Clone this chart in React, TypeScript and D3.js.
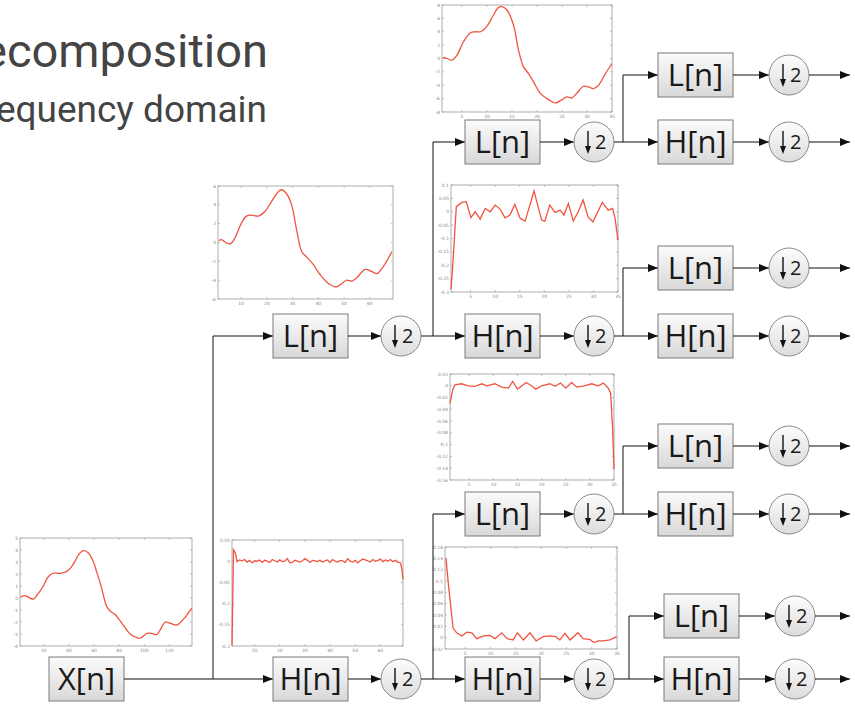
import React from 'react';
import * as d3 from 'd3';

type Pt = [number, number];

// input signal x[n] (plot left of X[n])
const signalX: Pt[] = [
  [1.5, 0.1], [5, 0.2], [8, 0.05], [11.6, -0.1], [15, 0.3], [19.6, 1.0], [23, 1.7], [26, 2.0],
  [29, 2.1], [31.6, 2.05], [35, 2.1], [38, 2.2], [42, 2.6], [45, 3.1], [47.6, 3.6], [51.5, 3.95],
  [55.5, 3.75], [59.5, 3.0], [62, 2.2], [65, 1.2], [67.5, 0.2], [70, -0.7], [73, -1.1], [77, -1.4],
  [80, -1.8], [83.5, -2.3], [87, -2.8], [90, -3.1], [93, -3.25], [96.7, -3.35], [99, -3.2], [102, -2.95],
  [106, -2.95], [110, -3.05], [113, -2.6], [116.7, -2.0], [119, -2.05], [122, -2.15], [125, -2.25],
  [127, -2.2], [130, -1.9], [132.7, -1.6], [135, -1.25], [138, -0.85],
];

// level 1 low-pass output
const level1Low: Pt[] = [
  [1.4, 0.2], [2.3, 0.3], [4.25, -0.05], [5.8, -0.15], [7.5, 0.45], [10.1, 2.05], [12.05, 2.8],
  [14, 2.9], [16.6, 2.8], [19.2, 3.3], [21.8, 4.35], [24.4, 5.4], [25.7, 5.6], [27.7, 5.15],
  [29.6, 4.0], [31.55, 1.35], [33.5, -0.95], [35.45, -1.55], [38.05, -2.35], [40.65, -3.4],
  [43.9, -4.35], [47.15, -4.7], [49.1, -4.35], [51.05, -4.0], [53, -4.1], [54.95, -3.75],
  [58.2, -2.85], [60.8, -3.1], [62.75, -3.3], [65.35, -2.5], [68.6, -0.95],
];

// level 1 high-pass output
const level1High: Pt[] = [
  [1, -0.198], [1.6, 0.027], [2.3, 0.02], [3, -0.001], [4, 0.003], [5, 0.001], [6, 0.004], [7, -0.002],
  [8, 0.002], [9, -0.004], [10, 0.001], [11, 0.0], [12, 0.003], [13, -0.003], [14, 0.002], [15, 0.0],
  [16, -0.003], [17, 0.004], [18, 0.001], [19, -0.002], [20, 0.003], [21, -0.001], [22, 0.0], [23, 0.006],
  [24, -0.004], [25, -0.003], [26, 0.002], [27, 0.0], [28, -0.002], [29, 0.001], [30, 0.006], [31, 0.002],
  [32, -0.003], [33, 0.002], [34, 0.001], [35, -0.001], [36, 0.002], [37, -0.002], [38, 0.001], [39, 0.003],
  [40, -0.003], [41, 0.004], [42, 0.0], [43, -0.002], [44, 0.002], [45, 0.001], [46, -0.003], [47, 0.006],
  [48, 0.0], [49, -0.002], [50, 0.002], [51, -0.004], [52, 0.001], [53, 0.005], [54, 0.003], [55, 0.001],
  [56, -0.002], [57, 0.004], [58, 0.0], [59, 0.002], [60, 0.005], [61, -0.001], [62, 0.003], [63, 0.0],
  [64, 0.004], [65, -0.001], [66, 0.002], [67, -0.002], [68, -0.004], [68.6, -0.02], [69, -0.043],
];

// level 2 (from L1): low and high
const level2LL: Pt[] = [
  [1.2, 0.15], [2, 0], [3, -0.25], [4, 0.5], [5.3, 2.5], [6.7, 3.85], [7.7, 4.0], [8.7, 4.0],
  [10, 4.85], [11.3, 6.5], [12.3, 7.65], [13, 7.75], [14, 7.25], [15.3, 5.0], [16.3, 1.25],
  [17.3, -1.25], [18.3, -2.25], [19.3, -3.5], [20.7, -5.25], [22, -6.0], [23.7, -6.65], [25, -6.15],
  [26, -5.75], [27, -5.9], [28, -5.15], [29.3, -4.15], [30.3, -4.25], [31.3, -4.5], [32.3, -4.0],
  [33.7, -2.25], [35, -0.75],
];

const level2LH: Pt[] = [
  [1, -0.29], [1.4, -0.19], [2.08, 0.019], [3.23, 0.035], [4.11, 0.0375], [5.06, -0.022], [5.93, 0],
  [6.95, -0.0275], [7.96, 0.0125], [8.98, 0], [9.99, 0.025], [11, 0.01], [12, -0.0225], [13, -0.0125],
  [14, 0.0275], [15.1, -0.025], [16.1, -0.035], [17.9, 0.0775], [19.45, -0.031], [20.1, -0.035],
  [21.1, 0.025], [22.2, -0.0025], [23.2, 0.006], [24, -0.0125], [24.9, 0.031], [25.9, -0.035],
  [26.9, 0], [27.9, 0.044], [28.9, -0.019], [29.9, -0.0375], [31.8, 0.035], [33, 0.006],
  [33.9, 0.0125], [34.4, -0.025], [35, -0.106],
];

// level 2 (from H1): low and high
const level2HL: Pt[] = [
  [1, -0.03], [1.55, -0.007], [2.04, 0.0017], [3.4, 0.0034], [4.8, 0], [6.2, -0.001], [7.6, 0.0034],
  [8.6, 0], [10.3, 0.0034], [11.7, -0.0023], [13.1, -0.004], [14, 0.0074], [15, -0.0057], [16.8, 0.0057],
  [17.9, 0], [18.8, -0.0057], [20, 0], [21.7, 0.0034], [22.8, -0.001], [23.9, 0.0046], [25, -0.004],
  [26.2, 0.0057], [27.3, -0.0023], [28.8, 0], [30.4, 0.0034], [31.7, 0], [32.8, 0.0046], [33.8, -0.004],
  [34.3, -0.0125], [34.7, -0.07], [35, -0.141],
];

const level2HH: Pt[] = [
  [1.2, 0.14], [1.66, 0.095], [2.6, 0.017], [3.3, 0.0086], [4.3, 0.003], [5.3, 0.0098], [6.3, 0.0086],
  [7.25, -0.0017], [8.6, 0.003], [9.9, 0.004], [10.9, -0.0017], [12.2, 0.0086], [13.3, -0.0017],
  [14.5, -0.004], [15.3, 0.0086], [16.5, -0.004], [17.8, 0.0086], [19, -0.0058], [20.4, 0.0017],
  [21.7, 0.003], [22.9, 0.0017], [23.7, -0.004], [24.7, 0.0075], [25.7, -0.004], [27.3, 0.0086],
  [28.3, -0.0017], [29.6, -0.0029], [30.4, -0.0086], [31.3, -0.0058], [32.3, -0.0058], [33.6, -0.004],
  [34.9, 0.0017],
];

// tick values
const ticksX128 = [20, 40, 60, 80, 100, 120];
const ticksX64 = [10, 20, 30, 40, 50, 60];
const ticksX32 = [5, 10, 15, 20, 25, 30, 35];
const ticksYx = [-4, -3, -2, -1, 0, 1, 2, 3, 4, 5];
const ticksYL1 = [-6, -4, -2, 0, 2, 4, 6];
const ticksYH1 = [-0.2, -0.15, -0.1, -0.05, 0, 0.05];
const ticksYLL = [-8, -6, -4, -2, 0, 2, 4, 6, 8];
const ticksYLH = [-0.3, -0.25, -0.2, -0.15, -0.1, -0.05, 0, 0.05, 0.1];
const ticksYHL = [-0.16, -0.14, -0.12, -0.1, -0.08, -0.06, -0.04, -0.02, 0, 0.02];
const ticksYHH = [-0.02, 0, 0.02, 0.04, 0.06, 0.08, 0.1, 0.12, 0.14, 0.16];

const RED = '#ef5440';

function MiniPlot({ data, xDomain, yDomain, xTicks, yTicks, x0, y0, w, h, smooth }: any) {
  const x = d3.scaleLinear().domain(xDomain).range([x0, x0 + w]);
  const y = d3.scaleLinear().domain(yDomain).range([y0 + h, y0]);
  const line = d3
    .line<Pt>()
    .x((d) => x(d[0]))
    .y((d) => y(d[1]))
    .curve(smooth ? d3.curveCatmullRom : d3.curveLinear);
  const fmt = (v: number) => String(+v.toFixed(3));
  return (
    <g>
      <rect x={x0} y={y0} width={w} height={h} fill="#fff" stroke="#9a9a9a" strokeWidth={0.8} />
      {xTicks.map((t: number) => (
        <g key={'x' + t}>
          <line x1={x(t)} x2={x(t)} y1={y0 + h} y2={y0 + h - 2} stroke="#9a9a9a" strokeWidth={0.6} />
          <line x1={x(t)} x2={x(t)} y1={y0} y2={y0 + 2} stroke="#9a9a9a" strokeWidth={0.6} />
          <text x={x(t)} y={y0 + h + 5.5} fontSize={4.5} fill="#888" textAnchor="middle" fontFamily="DejaVu Sans">
            {fmt(t)}
          </text>
        </g>
      ))}
      {yTicks.map((t: number) => (
        <g key={'y' + t}>
          <line x1={x0} x2={x0 + 2} y1={y(t)} y2={y(t)} stroke="#9a9a9a" strokeWidth={0.6} />
          <line x1={x0 + w} x2={x0 + w - 2} y1={y(t)} y2={y(t)} stroke="#9a9a9a" strokeWidth={0.6} />
          <text x={x0 - 2} y={y(t) + 1.5} fontSize={4.5} fill="#888" textAnchor="end" fontFamily="DejaVu Sans">
            {fmt(t)}
          </text>
        </g>
      ))}
      <path d={line(data) || ''} fill="none" stroke={RED} strokeWidth={1.3} />
    </g>
  );
}

const BOX_W = 75;
const BOX_H = 44;
const R = 20;

function Box({ x, cy, label }: { x: number; cy: number; label: string }) {
  return (
    <g>
      <rect x={x} y={cy - BOX_H / 2} width={BOX_W} height={BOX_H} fill="url(#boxGrad)" stroke="#7a7a7a" strokeWidth={1} />
      <text x={x + BOX_W / 2} y={cy + 11} fontSize={31} fontFamily="Open Sans" fill="#1a1a1a" textAnchor="middle">
        {label}
      </text>
    </g>
  );
}

function Down({ cx, cy }: { cx: number; cy: number }) {
  return (
    <g>
      <circle cx={cx} cy={cy} r={R} fill="url(#circGrad)" stroke="#8a8a8a" strokeWidth={1} />
      <line x1={cx - 6} x2={cx - 6} y1={cy - 11} y2={cy + 5} stroke="#111" strokeWidth={1.4} />
      <path d={`M${cx - 9},${cy + 4} L${cx - 3},${cy + 4} L${cx - 6},${cy + 12} Z`} fill="#111" />
      <text x={cx + 1} y={cy + 7} fontSize={20} fontFamily="Open Sans" fill="#1a1a1a">
        2
      </text>
    </g>
  );
}

function Arrow({ pts }: { pts: Pt[] }) {
  const d = d3.line()(pts) || '';
  return <path d={d} fill="none" stroke="#111" strokeWidth={1} markerEnd="url(#arrowHead)" />;
}

// layout of the filter tree
const ROW_X = 679;
const lvl1 = { junction: 213, box: 273, circle: 401 };
const lvl2 = { junction: 433, box: 465, circle: 594 };
const lvl3 = { junction: 623, box: 658, circle: 789 };

const level1Pairs = [{ parent: ROW_X, low: 336, high: ROW_X, shift: 0 }];
const level2Pairs = [
  { parent: 336, low: 142, high: 336, shift: 0 },
  { parent: ROW_X, low: 514, high: ROW_X, shift: 0 },
];
const level3Pairs = [
  { parent: 142, low: 75, high: 142, shift: 0 },
  { parent: 336, low: 268, high: 336, shift: 0 },
  { parent: 514, low: 446, high: 514, shift: 0 },
  { parent: ROW_X, low: 616, high: ROW_X, shift: 6 },
];

function Stage({ pairs, lv, fromX, last }: any) {
  return (
    <g>
      {pairs.map((p: any, i: number) => {
        const jx = lv.junction + p.shift;
        const bx = lv.box + p.shift;
        const cx = lv.circle + p.shift;
        return (
          <g key={i}>
            <Arrow pts={[[fromX, p.parent], [bx, p.high]]} />
            <Arrow pts={[[jx, p.parent], [jx, p.low], [bx, p.low]]} />
            {[
              { y: p.low, label: 'L[n]' },
              { y: p.high, label: 'H[n]' },
            ].map((c) => (
              <g key={c.label}>
                <Box x={bx} cy={c.y} label={c.label} />
                <Arrow pts={[[bx + BOX_W, c.y], [cx - R, c.y]]} />
                <Down cx={cx} cy={c.y} />
                {last && <Arrow pts={[[cx + R, c.y], [850, c.y]]} />}
              </g>
            ))}
          </g>
        );
      })}
    </g>
  );
}

export default function App() {
  return (
    <svg width={855} height={706} style={{ position: 'absolute', left: 0, top: 0, background: '#fff' }}>
      <defs>
        <linearGradient id="boxGrad" x1="0" y1="0" x2="0" y2="1">
          <stop offset="0" stopColor="#fbfbfb" />
          <stop offset="1" stopColor="#d8d8d8" />
        </linearGradient>
        <linearGradient id="circGrad" x1="0" y1="0" x2="0" y2="1">
          <stop offset="0" stopColor="#fdfdfd" />
          <stop offset="1" stopColor="#dcdcdc" />
        </linearGradient>
        <marker id="arrowHead" viewBox="0 0 10 8" refX={10} refY={4} markerWidth={10} markerHeight={8} markerUnits="userSpaceOnUse" orient="auto">
          <path d="M0,0 L10,4 L0,8 Z" fill="#111" />
        </marker>
      </defs>
      <rect width={855} height={706} fill="#fff" />

      <text x={268} y={67} textAnchor="end" fontFamily="Roboto" fontSize={47} fill="#444">
        ecomposition
      </text>
      <text x={267} y={122} textAnchor="end" fontFamily="Roboto" fontSize={37} fill="#444">
        equency domain
      </text>

      <MiniPlot data={signalX} xDomain={[1, 138]} yDomain={[-4, 5]} xTicks={ticksX128} yTicks={ticksYx} x0={20} y0={538} w={172} h={108} smooth />
      <MiniPlot data={level1Low} xDomain={[1, 69]} yDomain={[-6, 6]} xTicks={ticksX64} yTicks={ticksYL1} x0={218} y0={186} w={175} h={113} smooth />
      <MiniPlot data={level1High} xDomain={[1, 69]} yDomain={[-0.2, 0.05]} xTicks={ticksX64} yTicks={ticksYH1} x0={232} y0={540} w={171} h={106} />
      <MiniPlot data={level2LL} xDomain={[1, 35]} yDomain={[-8, 8]} xTicks={ticksX32} yTicks={ticksYLL} x0={442} y0={5} w={170} h={107} smooth />
      <MiniPlot data={level2LH} xDomain={[1, 35]} yDomain={[-0.3, 0.1]} xTicks={ticksX32} yTicks={ticksYLH} x0={451} y0={185} w={167} h={107} />
      <MiniPlot data={level2HL} xDomain={[1, 35]} yDomain={[-0.16, 0.02]} xTicks={ticksX32} yTicks={ticksYHL} x0={450} y0={374} w={164} h={106} />
      <MiniPlot data={level2HH} xDomain={[1, 35]} yDomain={[-0.02, 0.16]} xTicks={ticksX32} yTicks={ticksYHH} x0={445} y0={547} w={172} h={102} />

      <Box x={49} cy={ROW_X} label="X[n]" />
      <Stage pairs={level1Pairs} lv={lvl1} fromX={49 + BOX_W} />
      <Stage pairs={level2Pairs} lv={lvl2} fromX={lvl1.circle + R} />
      <Stage pairs={level3Pairs} lv={lvl3} fromX={lvl2.circle + R} last />
    </svg>
  );
}
